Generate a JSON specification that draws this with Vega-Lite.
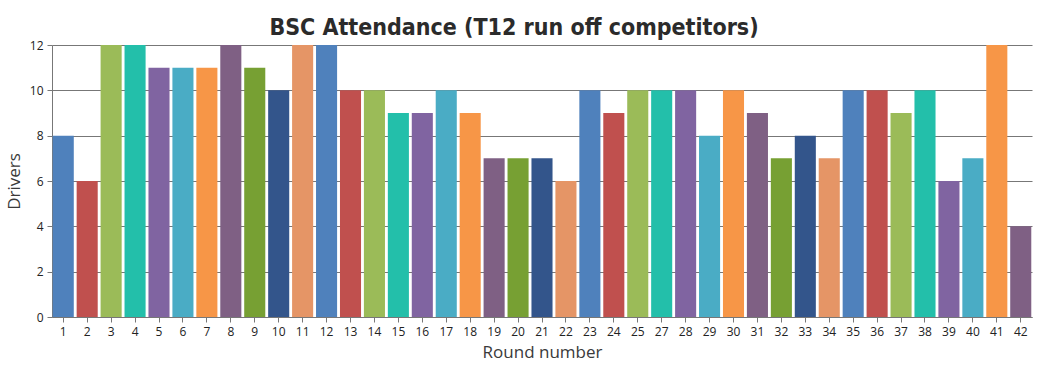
{
  "$schema": "https://vega.github.io/schema/vega-lite/v6.json",
  "width": 980,
  "height": 272,
  "autosize": {"type": "none"},
  "padding": {"left": 52, "top": 45, "right": 11, "bottom": 53},
  "background": "white",
  "title": {
    "text": "BSC Attendance (T12 run off competitors)",
    "font": "DejaVu Sans Condensed",
    "fontSize": 23,
    "fontWeight": "bold",
    "color": "#2b2b2b",
    "anchor": "middle",
    "baseline": "alphabetic",
    "offset": 13,
    "dx": -28,
    "dy": 32
  },
  "data": {
    "values": [
      {"round": 1, "drivers": 8}, {"round": 2, "drivers": 6}, {"round": 3, "drivers": 12},
      {"round": 4, "drivers": 12}, {"round": 5, "drivers": 11}, {"round": 6, "drivers": 11},
      {"round": 7, "drivers": 11}, {"round": 8, "drivers": 12}, {"round": 9, "drivers": 11},
      {"round": 10, "drivers": 10}, {"round": 11, "drivers": 12}, {"round": 12, "drivers": 12},
      {"round": 13, "drivers": 10}, {"round": 14, "drivers": 10}, {"round": 15, "drivers": 9},
      {"round": 16, "drivers": 9}, {"round": 17, "drivers": 10}, {"round": 18, "drivers": 9},
      {"round": 19, "drivers": 7}, {"round": 20, "drivers": 7}, {"round": 21, "drivers": 7},
      {"round": 22, "drivers": 6}, {"round": 23, "drivers": 10}, {"round": 24, "drivers": 9},
      {"round": 25, "drivers": 10}, {"round": 27, "drivers": 10}, {"round": 28, "drivers": 10},
      {"round": 29, "drivers": 8}, {"round": 30, "drivers": 10}, {"round": 31, "drivers": 9},
      {"round": 32, "drivers": 7}, {"round": 33, "drivers": 8}, {"round": 34, "drivers": 7},
      {"round": 35, "drivers": 10}, {"round": 36, "drivers": 10}, {"round": 37, "drivers": 9},
      {"round": 38, "drivers": 10}, {"round": 39, "drivers": 6}, {"round": 40, "drivers": 7},
      {"round": 41, "drivers": 12}, {"round": 42, "drivers": 4}
    ]
  },
  "mark": {"type": "bar"},
  "encoding": {
    "x": {
      "field": "round",
      "type": "ordinal",
      "sort": "ascending",
      "scale": {"paddingInner": 0.12, "paddingOuter": 0.03},
      "axis": {
        "title": "Round number",
        "titleFont": "Open Sans",
        "titleFontSize": 17,
        "titleFontWeight": "normal",
        "titleColor": "#3a3a3a",
        "titlePadding": 7,
        "labelAngle": 0,
        "labelFont": "Open Sans",
        "labelFontSize": 12,
        "labelColor": "#222222",
        "labelPadding": 4,
        "tickSize": 5,
        "tickColor": "#777777",
        "domainColor": "#777777",
        "grid": false
      }
    },
    "y": {
      "field": "drivers",
      "type": "quantitative",
      "scale": {"domain": [0, 12], "nice": false},
      "axis": {
        "title": "Drivers",
        "titleFont": "Open Sans",
        "titleFontSize": 17,
        "titleFontWeight": "normal",
        "titleColor": "#3a3a3a",
        "titlePadding": 6,
        "values": [0, 2, 4, 6, 8, 10, 12],
        "labelFont": "Open Sans",
        "labelFontSize": 12,
        "labelColor": "#222222",
        "labelPadding": 4,
        "tickSize": 5,
        "tickColor": "#777777",
        "domainColor": "#777777",
        "grid": true,
        "gridColor": "#777777",
        "gridWidth": 1
      }
    },
    "color": {
      "field": "round",
      "type": "ordinal",
      "sort": "ascending",
      "legend": null,
      "scale": {
        "range": ["#4F81BC", "#C0504E", "#9BBB58", "#23BFAA", "#8064A1", "#4AACC5", "#F79647", "#7F6084", "#77A033", "#33558B", "#E59566"]
      }
    }
  },
  "config": {
    "view": {"stroke": null}
  }
}
